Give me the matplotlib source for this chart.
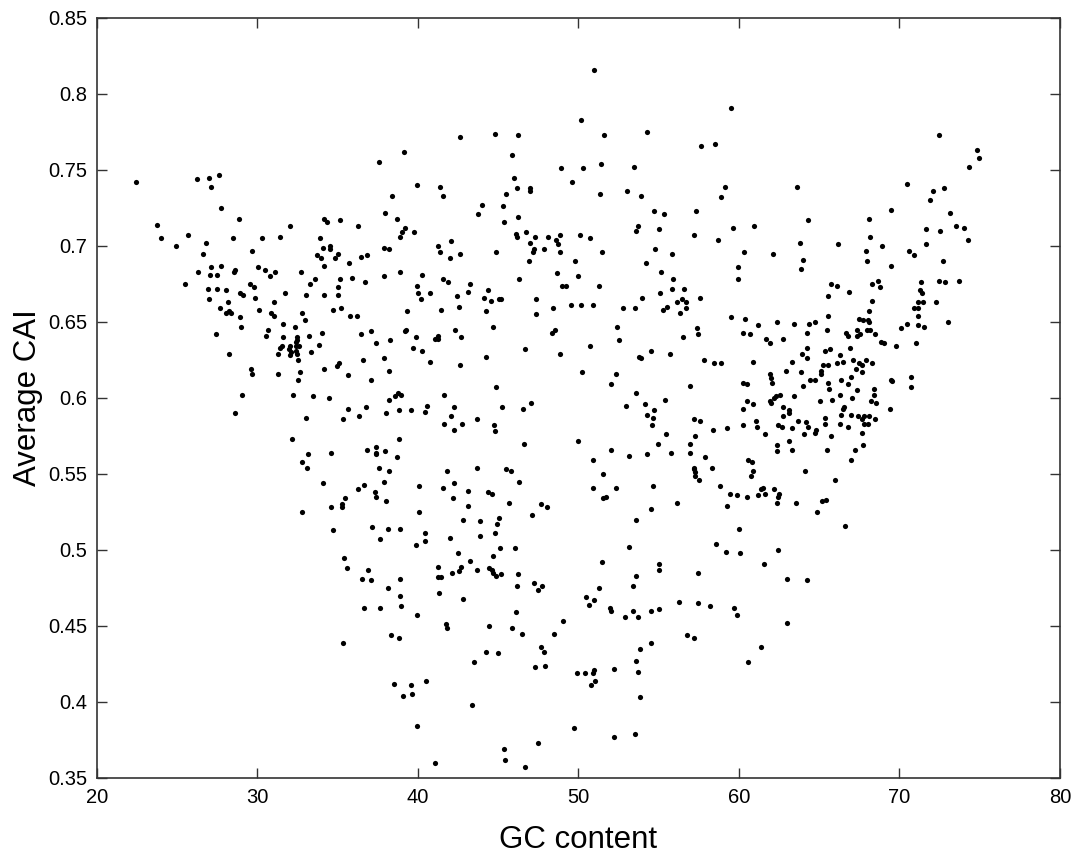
import matplotlib
matplotlib.use('Agg')
import matplotlib.pyplot as plt

# (GC content, average CAI), grouped by GC band
low_gc = [
    (22.46, 0.742), (26.26, 0.744), (26.99, 0.745), (27.61, 0.747), (27.13, 0.739), (27.72, 0.725),
    (28.84, 0.718), (23.75, 0.714), (23.96, 0.705), (25.70, 0.707), (24.93, 0.700), (26.78, 0.702),
    (26.61, 0.695), (28.48, 0.705), (30.29, 0.705), (31.39, 0.706), (32.01, 0.713), (29.65, 0.697),
    (34.15, 0.718), (34.32, 0.716), (35.15, 0.717), (33.88, 0.705), (34.11, 0.699), (34.49, 0.700),
    (34.51, 0.698), (33.72, 0.694), (33.95, 0.692), (34.82, 0.692), (35.03, 0.695), (34.13, 0.687),
    (26.28, 0.683), (27.13, 0.686), (27.76, 0.687), (27.03, 0.681), (27.51, 0.681), (28.53, 0.683),
    (28.63, 0.684), (30.02, 0.686), (30.48, 0.684), (30.79, 0.680), (31.10, 0.683), (32.74, 0.683),
    (25.47, 0.675), (26.95, 0.672), (27.47, 0.672), (28.01, 0.671), (26.99, 0.665), (29.56, 0.675),
    (29.81, 0.673), (28.94, 0.669), (29.07, 0.668), (29.85, 0.666), (31.04, 0.663), (31.72, 0.669),
    (33.05, 0.668), (33.28, 0.675), (33.61, 0.678), (34.15, 0.668), (35.00, 0.673), (35.00, 0.668),
    (35.15, 0.678), (34.71, 0.658), (27.67, 0.659), (28.19, 0.663), (28.07, 0.656), (28.21, 0.657),
    (28.34, 0.656), (30.08, 0.658), (30.87, 0.656), (31.00, 0.654), (28.90, 0.653), (28.98, 0.647),
    (27.40, 0.642), (28.21, 0.629), (30.68, 0.645), (30.52, 0.641), (31.58, 0.649), (32.33, 0.647),
    (32.78, 0.656), (32.95, 0.651), (31.62, 0.640), (32.49, 0.640), (32.49, 0.638), (33.22, 0.641),
    (34.03, 0.643), (33.86, 0.635), (31.43, 0.633), (31.54, 0.634), (32.01, 0.634), (31.97, 0.632),
    (32.12, 0.630), (32.01, 0.628), (32.43, 0.637), (32.41, 0.634), (32.60, 0.634), (32.43, 0.631),
    (32.45, 0.629), (31.27, 0.629), (33.36, 0.630), (32.53, 0.625), (29.61, 0.619), (29.69, 0.616),
    (31.31, 0.616), (32.62, 0.617), (32.53, 0.612), (34.17, 0.619), (34.96, 0.621), (35.11, 0.623),
    (29.04, 0.602), (28.59, 0.590), (32.20, 0.602), (33.49, 0.601), (34.44, 0.600), (33.03, 0.587),
    (32.14, 0.573), (33.16, 0.563), (34.61, 0.564), (32.80, 0.558), (33.07, 0.554), (34.09, 0.544),
    (32.76, 0.525), (34.59, 0.528), (34.71, 0.513),
]

mid_low_gc = [
    (50.17, 0.783), (42.61, 0.772), (44.77, 0.774), (46.24, 0.773), (39.14, 0.762), (37.58, 0.755),
    (45.89, 0.760), (48.90, 0.751), (50.29, 0.751), (49.58, 0.742), (39.91, 0.740), (41.36, 0.739),
    (41.55, 0.733), (38.37, 0.733), (45.97, 0.745), (46.16, 0.738), (46.95, 0.738), (46.95, 0.736),
    (45.49, 0.734), (44.02, 0.727), (45.31, 0.726), (43.73, 0.721), (37.93, 0.722), (38.70, 0.718),
    (45.33, 0.716), (46.24, 0.719), (36.29, 0.713), (39.22, 0.712), (38.99, 0.709), (38.87, 0.706),
    (39.74, 0.709), (46.10, 0.708), (46.18, 0.706), (46.72, 0.709), (47.01, 0.702), (47.32, 0.706),
    (48.09, 0.706), (48.59, 0.704), (48.86, 0.707), (48.75, 0.701), (50.10, 0.707), (37.87, 0.699),
    (38.18, 0.698), (41.26, 0.700), (42.05, 0.703), (41.40, 0.696), (42.00, 0.692), (42.61, 0.695),
    (44.85, 0.696), (47.26, 0.698), (47.15, 0.696), (47.86, 0.698), (48.86, 0.696), (35.71, 0.689),
    (36.44, 0.693), (36.81, 0.694), (46.93, 0.690), (49.77, 0.690), (38.89, 0.683), (40.24, 0.681),
    (37.87, 0.680), (35.92, 0.679), (48.67, 0.682), (50.00, 0.680),
    (36.69, 0.676), (41.53, 0.678), (41.86, 0.676), (39.95, 0.674), (40.01, 0.669), (40.18, 0.665),
    (40.76, 0.669), (43.27, 0.675), (43.10, 0.670), (42.44, 0.667), (42.54, 0.660), (44.39, 0.671),
    (44.12, 0.666), (44.54, 0.664), (45.04, 0.665), (45.18, 0.665), (46.32, 0.678), (47.36, 0.665),
    (47.36, 0.655), (48.44, 0.659), (49.54, 0.661), (50.14, 0.661), (49.00, 0.674), (49.21, 0.674),
    (35.23, 0.659), (35.77, 0.654), (36.21, 0.654), (39.32, 0.657), (41.46, 0.658), (36.46, 0.642),
    (37.06, 0.644), (37.39, 0.636), (38.27, 0.638), (39.18, 0.644), (39.24, 0.645), (39.86, 0.640),
    (39.68, 0.633), (40.28, 0.631), (41.07, 0.639), (41.24, 0.639), (41.28, 0.641), (42.32, 0.645),
    (42.69, 0.640), (44.21, 0.657), (44.70, 0.647), (48.36, 0.643), (48.52, 0.645), (46.68, 0.632),
    (48.84, 0.629), (44.27, 0.627), (36.58, 0.625), (37.87, 0.626), (40.74, 0.624), (42.63, 0.622),
    (35.63, 0.615), (37.08, 0.612), (38.22, 0.618), (44.89, 0.607), (50.21, 0.617), (38.60, 0.601),
    (38.76, 0.603), (38.95, 0.602), (38.22, 0.599), (41.61, 0.602), (35.67, 0.593), (36.79, 0.594),
    (35.34, 0.586), (36.33, 0.588), (38.04, 0.590), (38.81, 0.592), (39.55, 0.592), (40.45, 0.591),
    (40.57, 0.595), (41.65, 0.583), (42.05, 0.588), (42.23, 0.594), (42.27, 0.579), (42.77, 0.583),
    (43.67, 0.586), (44.72, 0.582), (44.81, 0.578), (45.22, 0.594), (46.55, 0.593), (47.03, 0.597),
    (46.61, 0.570), (49.98, 0.572), (38.83, 0.573), (36.85, 0.566), (37.37, 0.568), (37.37, 0.564),
    (37.37, 0.563), (37.97, 0.565), (38.72, 0.561), (37.56, 0.554), (38.20, 0.552), (43.67, 0.554),
    (45.49, 0.553), (45.82, 0.552), (41.78, 0.552), (37.91, 0.545), (36.25, 0.540), (36.65, 0.543),
    (40.07, 0.542), (41.57, 0.541), (42.23, 0.544), (43.13, 0.539), (44.35, 0.538), (44.62, 0.537),
    (46.32, 0.545), (37.35, 0.538), (37.37, 0.535), (35.46, 0.534), (35.25, 0.530), (35.25, 0.528),
    (38.00, 0.532), (42.19, 0.534), (43.10, 0.529), (40.07, 0.525), (45.68, 0.531), (47.67, 0.530),
    (48.05, 0.528), (47.09, 0.523), (42.83, 0.520), (43.85, 0.519), (44.93, 0.517), (45.06, 0.521),
    (37.12, 0.515), (38.14, 0.514), (38.91, 0.514), (40.43, 0.511), (44.83, 0.511),
    (37.66, 0.507), (39.86, 0.503), (40.43, 0.506), (42.02, 0.508), (43.89, 0.509), (45.14, 0.501),
    (46.05, 0.501), (44.70, 0.496), (42.52, 0.498), (43.27, 0.493), (42.69, 0.489), (42.56, 0.486),
    (42.13, 0.485), (41.26, 0.489), (41.26, 0.482), (41.44, 0.482), (43.69, 0.487), (44.45, 0.488),
    (44.62, 0.487), (44.66, 0.485), (44.87, 0.483), (45.20, 0.484), (46.26, 0.484), (46.18, 0.476),
    (47.22, 0.478), (47.49, 0.474), (47.71, 0.476), (35.40, 0.495), (35.61, 0.488), (36.54, 0.481),
    (36.87, 0.487), (37.06, 0.480), (38.87, 0.481), (38.12, 0.475), (38.87, 0.470), (41.30, 0.472),
    (42.83, 0.468), (36.62, 0.462), (37.62, 0.462), (38.97, 0.463), (39.97, 0.457), (41.73, 0.451),
    (41.84, 0.449), (44.41, 0.450), (45.89, 0.449), (46.10, 0.459), (46.47, 0.445), (48.46, 0.445),
    (49.02, 0.453), (38.33, 0.444), (38.85, 0.442), (35.32, 0.439), (44.21, 0.433), (44.97, 0.432),
    (43.50, 0.426), (47.69, 0.436), (47.84, 0.433), (47.28, 0.423), (47.92, 0.424), (49.92, 0.419),
    (38.51, 0.412), (39.55, 0.411), (40.51, 0.414), (39.08, 0.404), (39.64, 0.405), (43.37, 0.398),
    (39.97, 0.384), (49.73, 0.383), (47.49, 0.373), (45.37, 0.369), (45.41, 0.362), (41.09, 0.360),
    (46.68, 0.357),
]

mid_high_gc = [
    (50.98, 0.816), (59.52, 0.791), (51.61, 0.773), (54.24, 0.775), (57.65, 0.766), (58.48, 0.767),
    (51.38, 0.754), (53.47, 0.752), (63.61, 0.739), (59.12, 0.739), (58.85, 0.732), (51.34, 0.734),
    (53.00, 0.736), (53.89, 0.733), (54.72, 0.723), (55.36, 0.721), (57.34, 0.723), (64.29, 0.717),
    (53.70, 0.713), (53.56, 0.710), (55.03, 0.711), (59.60, 0.712), (60.95, 0.713), (50.73, 0.705),
    (57.17, 0.707), (58.67, 0.704), (63.82, 0.702), (51.46, 0.696), (54.74, 0.698), (55.80, 0.695),
    (60.29, 0.696), (62.09, 0.695), (63.98, 0.691), (54.18, 0.689), (55.12, 0.683), (59.93, 0.686),
    (63.84, 0.685),
    (51.25, 0.674), (55.86, 0.678), (55.80, 0.672), (56.55, 0.672), (55.05, 0.669), (53.93, 0.666),
    (50.92, 0.661), (52.77, 0.659), (53.52, 0.659), (55.28, 0.658), (55.49, 0.660), (56.17, 0.663),
    (56.44, 0.665), (56.71, 0.663), (56.71, 0.659), (56.32, 0.656), (57.55, 0.666), (59.95, 0.678),
    (59.48, 0.653), (60.39, 0.652), (61.18, 0.648), (62.34, 0.650), (63.40, 0.649), (64.34, 0.649),
    (64.71, 0.650), (52.42, 0.647), (57.36, 0.646), (57.46, 0.642), (52.50, 0.638), (56.51, 0.640),
    (60.27, 0.643), (60.70, 0.642), (61.70, 0.639), (61.91, 0.636), (62.74, 0.639), (64.21, 0.643),
    (64.27, 0.633), (63.94, 0.629), (64.23, 0.626), (50.75, 0.634), (53.79, 0.627), (53.89, 0.626),
    (54.51, 0.631), (55.72, 0.629), (57.82, 0.625), (58.42, 0.623), (58.90, 0.623), (60.85, 0.624),
    (63.28, 0.624), (62.90, 0.618), (63.88, 0.617), (65.10, 0.618), (65.10, 0.616), (65.25, 0.622),
    (61.91, 0.616), (61.97, 0.613), (62.05, 0.610), (52.33, 0.616), (52.00, 0.609), (56.98, 0.608),
    (60.27, 0.610), (60.47, 0.609), (63.98, 0.608), (64.44, 0.612), (64.71, 0.612), (53.60, 0.603),
    (55.41, 0.599), (52.98, 0.595), (54.16, 0.596), (54.72, 0.592), (54.28, 0.589), (54.62, 0.587),
    (54.58, 0.582), (57.19, 0.586), (57.59, 0.585), (60.27, 0.593), (60.49, 0.598), (60.85, 0.596),
    (61.93, 0.598), (61.97, 0.597), (62.16, 0.600), (62.28, 0.601), (62.53, 0.602), (62.72, 0.594),
    (63.09, 0.592), (63.11, 0.590), (62.76, 0.588), (63.40, 0.601), (65.04, 0.598), (61.06, 0.585),
    (61.10, 0.581), (60.25, 0.582), (62.45, 0.582), (62.67, 0.581), (63.28, 0.580), (63.65, 0.585),
    (64.17, 0.584), (64.32, 0.581), (64.81, 0.579), (64.07, 0.576), (64.73, 0.577), (59.25, 0.580),
    (58.40, 0.579), (61.64, 0.576), (62.36, 0.569), (62.34, 0.565), (63.09, 0.572), (63.28, 0.566),
    (52.00, 0.566), (53.12, 0.562), (54.24, 0.563), (54.93, 0.570), (55.43, 0.576), (55.78, 0.564),
    (56.94, 0.564), (56.98, 0.570), (57.28, 0.575), (57.86, 0.561), (58.33, 0.554), (57.21, 0.554),
    (57.21, 0.553), (57.23, 0.551), (57.28, 0.549), (57.48, 0.546), (60.54, 0.559), (60.83, 0.558),
    (60.85, 0.552), (60.76, 0.549), (50.90, 0.559), (51.54, 0.550), (50.90, 0.541), (52.35, 0.541),
    (51.52, 0.534), (51.73, 0.535), (54.62, 0.542), (58.84, 0.542), (59.44, 0.537), (59.87, 0.536),
    (60.49, 0.535), (61.16, 0.536), (61.35, 0.540), (61.51, 0.541), (61.60, 0.537), (62.18, 0.540),
    (62.51, 0.537), (62.45, 0.535), (62.34, 0.531), (63.57, 0.531), (65.15, 0.532), (64.88, 0.525),
    (64.09, 0.552), (56.11, 0.531), (54.51, 0.527), (53.56, 0.520), (59.23, 0.529), (60.02, 0.514),
    (53.14, 0.502), (58.56, 0.504), (59.21, 0.499), (60.08, 0.498), (62.45, 0.500), (61.57, 0.491),
    (51.48, 0.492), (55.03, 0.491), (55.03, 0.487), (53.58, 0.483), (57.46, 0.485), (53.39, 0.476),
    (51.27, 0.475), (62.99, 0.481), (64.21, 0.480), (50.48, 0.469), (50.65, 0.464), (50.96, 0.467),
    (51.96, 0.462), (52.02, 0.460), (52.91, 0.456), (53.39, 0.460), (53.70, 0.456), (54.51, 0.460),
    (55.01, 0.461), (56.28, 0.466), (57.44, 0.465), (58.21, 0.463), (59.71, 0.462), (59.87, 0.457),
    (62.99, 0.452), (56.76, 0.444), (57.17, 0.442), (54.55, 0.439), (53.83, 0.435), (61.35, 0.436),
    (53.60, 0.427), (53.68, 0.420), (60.58, 0.426), (52.19, 0.422), (50.40, 0.419), (50.90, 0.419),
    (50.96, 0.421), (51.04, 0.414), (50.80, 0.411), (53.85, 0.403), (52.19, 0.377), (53.50, 0.379),
]

high_gc = [
    (72.45, 0.773), (74.86, 0.763), (74.95, 0.758), (74.32, 0.752), (70.50, 0.741), (72.08, 0.736),
    (72.77, 0.738), (71.91, 0.730), (69.50, 0.724), (73.14, 0.722), (68.13, 0.718), (71.64, 0.711),
    (72.52, 0.710), (73.55, 0.713), (74.01, 0.712), (74.26, 0.704), (68.18, 0.706), (66.16, 0.701),
    (67.91, 0.697), (68.92, 0.700), (70.58, 0.697), (70.90, 0.694), (71.66, 0.701), (67.95, 0.690),
    (69.50, 0.687), (72.74, 0.690),
    (65.72, 0.675), (66.08, 0.674), (66.87, 0.670), (68.30, 0.675), (68.69, 0.677), (68.80, 0.673),
    (71.37, 0.676), (72.47, 0.677), (72.85, 0.676), (73.74, 0.677), (65.56, 0.667), (68.30, 0.664),
    (68.13, 0.657), (65.56, 0.654), (67.51, 0.652), (67.70, 0.651), (68.03, 0.651), (68.13, 0.650),
    (65.50, 0.645), (66.68, 0.643), (66.78, 0.641), (67.34, 0.645), (67.34, 0.641), (67.57, 0.642),
    (67.95, 0.645), (68.18, 0.645), (68.49, 0.642), (68.88, 0.637), (69.03, 0.636), (69.80, 0.634),
    (70.09, 0.646), (70.48, 0.649), (70.92, 0.659), (71.17, 0.659), (71.17, 0.663), (71.27, 0.671),
    (71.42, 0.669), (71.46, 0.663), (71.17, 0.654), (71.17, 0.648), (71.52, 0.647), (72.25, 0.663),
    (73.01, 0.650), (71.04, 0.636), (65.37, 0.631), (65.70, 0.632), (66.91, 0.633), (66.29, 0.628),
    (66.47, 0.624), (66.10, 0.623), (67.12, 0.625), (67.51, 0.623), (67.66, 0.622), (67.93, 0.625),
    (68.30, 0.623), (67.32, 0.619), (67.68, 0.617), (65.52, 0.622), (65.52, 0.610), (65.64, 0.606),
    (66.35, 0.612), (66.99, 0.614), (66.80, 0.609), (67.34, 0.605), (68.40, 0.606), (68.42, 0.602),
    (66.31, 0.602), (67.05, 0.600), (65.77, 0.599), (68.24, 0.598), (68.55, 0.597), (69.46, 0.612),
    (69.53, 0.611), (70.71, 0.614), (70.73, 0.607), (69.38, 0.593), (66.47, 0.593), (66.56, 0.594),
    (66.35, 0.589), (66.99, 0.589), (65.35, 0.587), (65.39, 0.583), (66.31, 0.583), (66.80, 0.581),
    (67.43, 0.588), (67.64, 0.586), (67.78, 0.588), (68.09, 0.588), (67.80, 0.583), (68.03, 0.583),
    (68.45, 0.586), (67.64, 0.577), (65.75, 0.575), (65.50, 0.566), (67.24, 0.566), (67.70, 0.569),
    (66.99, 0.559), (65.97, 0.546), (65.41, 0.533), (66.62, 0.516),
]

x_ticks = [20, 30, 40, 50, 60, 70, 80]
y_ticks = [0.35, 0.4, 0.45, 0.5, 0.55, 0.6, 0.65, 0.7, 0.75, 0.8, 0.85]

plt.rcParams['font.family'] = ['Liberation Sans', 'DejaVu Sans']

fig = plt.figure(figsize=(10.76, 8.57), dpi=100)
ax = fig.add_axes([0.0901, 0.0922, 0.8950, 0.8868])

for group in (low_gc, mid_low_gc, mid_high_gc, high_gc):
    gc = [p[0] for p in group]
    cai = [p[1] for p in group]
    ax.scatter(gc, cai, s=14, c='black', marker='o', linewidths=0)

ax.set_xlim(20, 80)
ax.set_ylim(0.35, 0.85)
ax.set_xticks(x_ticks)
ax.set_yticks(y_ticks)
ax.set_xticklabels([f'{v:g}' for v in x_ticks])
ax.set_yticklabels([f'{v:g}' for v in y_ticks])
ax.tick_params(direction='in', top=True, right=True, length=7, width=1,
               labelsize=14.5, color='#333333', pad=7)
for sp in ax.spines.values():
    sp.set_linewidth(1.2)
    sp.set_color('#333333')

ax.set_xlabel('GC content', fontsize=22.5, labelpad=13)
ax.set_ylabel('Average CAI', fontsize=22.5, labelpad=4)

fig.savefig('out.png', dpi=100)
